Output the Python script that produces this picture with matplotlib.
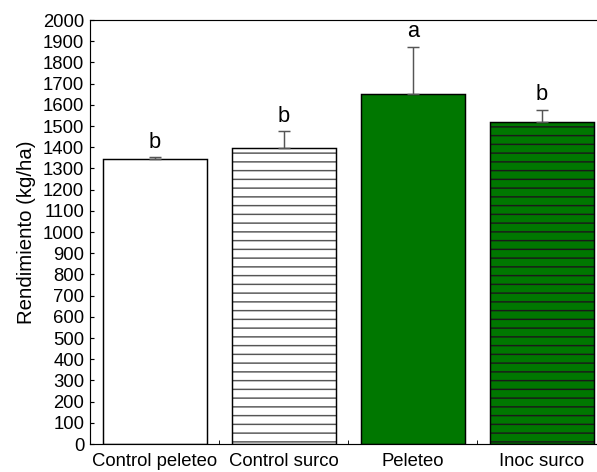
import numpy as np
import matplotlib.pyplot as plt

plt.rcParams['font.family'] = ['Liberation Sans', 'DejaVu Sans']
plt.rcParams['hatch.linewidth'] = 1.0

categorias = ['Control peleteo', 'Control surco', 'Peleteo', 'Inoc surco']
rendimiento = [1345, 1395, 1650, 1520]
error = [8, 80, 225, 55]
letras = ['b', 'b', 'a', 'b']
colores = ['white', 'white', '#007700', '#007700']
tramas = ['', '--', '', '--']
color_trama = ['#555555', '#555555', '#1a1a1a', '#1a1a1a']

dpi = 105
fig = plt.figure(figsize=(597 / dpi, 472 / dpi), dpi=dpi)
ax = fig.add_axes([0.1508, 0.0593, 0.865, 0.8983])

x = np.arange(len(categorias))
for i in range(len(categorias)):
    # relleno con trama, luego el borde negro encima
    ax.bar(x[i], rendimiento[i], width=0.806, color=colores[i], hatch=tramas[i],
           edgecolor=color_trama[i], linewidth=0, zorder=2)
    ax.bar(x[i], rendimiento[i], width=0.806, fill=False,
           edgecolor='black', linewidth=1.0, zorder=2)
    ax.errorbar(x[i], rendimiento[i], yerr=[[0], [error[i]]], color='#555555',
                capsize=4, elinewidth=1, capthick=1, zorder=3)
    ax.text(x[i], rendimiento[i] + error[i] + 22, letras[i], ha='center', va='bottom',
            fontsize=15)

ax.set_xlim(-0.5, 3.5)
ax.set_ylim(0, 2000)
ax.set_yticks(np.arange(0, 2001, 100))
ax.set_xticks(x)
ax.set_xticklabels(categorias)
ax.set_xticks(x[:-1] + 0.5, minor=True)
ax.tick_params(axis='both', direction='in', length=3, labelsize=12.7)
ax.tick_params(axis='x', pad=6)
ax.tick_params(axis='y', pad=4)
ax.tick_params(axis='x', which='minor', direction='in', length=3)
ax.spines['right'].set_visible(False)
ax.set_ylabel('Rendimiento (kg/ha)', fontsize=14, labelpad=5)

fig.savefig('out.png', dpi=dpi)
